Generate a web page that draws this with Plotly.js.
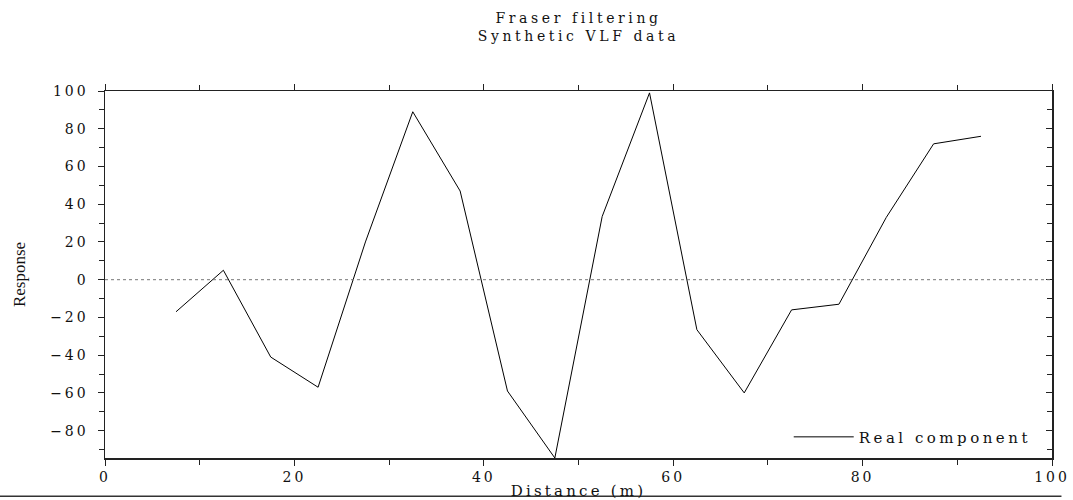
<!DOCTYPE html>
<html>
<head>
<meta charset="utf-8">
<script src="https://cdn.plot.ly/plotly-3.0.1.min.js"></script>
<style>
html,body{margin:0;padding:0;background:#fff;}
#chart{width:1073px;height:500px;}
.xtick text,.ytick text{letter-spacing:3px;}
.legendtext{letter-spacing:3.5px;}
.gtitle{letter-spacing:3.6px;}
.xtitle{letter-spacing:3.2px;}
</style>
</head>
<body>
<div id="chart"></div>
<script>
const distance = [7.5, 12.5, 17.5, 22.5, 27.5, 32.5, 37.5, 42.5, 47.5, 52.5, 57.5, 62.5, 67.5, 72.5, 77.5, 82.5, 87.5, 92.5];
const realComponent = [-17, 5, -41, -57, 20, 89, 47, -59, -94.5, 33.5, 99, -26.5, -60, -16, -13, 33, 72, 76];
const xTicks = [0, 20, 40, 60, 80, 100];
const yTicks = [-80, -60, -40, -20, 0, 20, 40, 60, 80, 100];

const wide = "DejaVu Serif, serif";
const times = "Liberation Serif, Times New Roman, serif";

const traces = [
  {
    x: distance, y: realComponent, type: 'scatter', mode: 'lines',
    name: 'Real component',
    line: {color: '#000', width: 1},
    hoverinfo: 'skip'
  },
  {
    x: distance, y: realComponent, type: 'scatter', mode: 'lines',
    yaxis: 'y2', xaxis: 'x2', showlegend: false,
    line: {color: 'rgba(0,0,0,0)', width: 0},
    hoverinfo: 'skip'
  }
];

const axisCommon = {
  showgrid: false, zeroline: false,
  showline: true, linecolor: '#222', linewidth: 1.5,
  ticklen: 6, tickwidth: 1, tickcolor: '#222',
  tickfont: {family: wide, size: 14, color: '#111'}
};

const layout = {
  width: 1073, height: 500,
  margin: {l: 105, r: 21, t: 91, b: 42},
  paper_bgcolor: '#fff', plot_bgcolor: '#fff',
  title: {
    text: 'Fraser filtering<br>Synthetic VLF data',
    font: {family: wide, size: 14, color: '#111'},
    x: 0.5, xref: 'paper', xanchor: 'center',
    y: 0.954, yref: 'container', yanchor: 'middle'
  },
  xaxis: Object.assign({}, axisCommon, {
    range: [0, 100], tickvals: xTicks, ticks: 'outside',
    minor: {dtick: 10, ticklen: 5, tickcolor: '#222', ticks: 'outside'},
    title: {text: 'Distance (m)', font: {family: wide, size: 15, color: '#111'}, standoff: 16}
  }),
  yaxis: Object.assign({}, axisCommon, {
    range: [-94.5, 100], tickvals: yTicks, ticks: 'outside',
    ticklabelstandoff: 6,
    minor: {dtick: 10, ticklen: 5, tickcolor: '#222', ticks: 'outside'},
    title: {text: 'Response', font: {family: times, size: 17, color: '#111'}, standoff: 20}
  }),
  xaxis2: Object.assign({}, axisCommon, {
    overlaying: 'x', side: 'top', matches: 'x', range: [0, 100],
    tickvals: xTicks, ticks: 'outside', showticklabels: false,
    minor: {dtick: 10, ticklen: 5, tickcolor: '#222', ticks: 'outside'}
  }),
  yaxis2: Object.assign({}, axisCommon, {
    overlaying: 'y', side: 'right', matches: 'y', range: [-94.5, 100],
    tickvals: yTicks, ticks: 'inside', showticklabels: false,
    minor: {dtick: 10, ticklen: 5, tickcolor: '#222', ticks: 'inside'}
  }),
  shapes: [
    {type: 'line', xref: 'paper', x0: 0, x1: 1, yref: 'y', y0: 0, y1: 0,
     line: {color: '#777', width: 1, dash: 'dot'}},
    {type: 'line', xref: 'paper', x0: -0.111, x1: 1.01, yref: 'paper', y0: -0.104, y1: -0.104,
     line: {color: '#333', width: 1.5}}
  ],
  legend: {
    x: 0.722, y: 0.012, xanchor: 'left', yanchor: 'bottom',
    bgcolor: 'rgba(0,0,0,0)', borderwidth: 0,
    font: {family: wide, size: 15, color: '#111'},
    itemwidth: 60
  },
  showlegend: true
};

Plotly.newPlot('chart', traces, layout, {displayModeBar: false, staticPlot: true});
</script>
</body>
</html>
